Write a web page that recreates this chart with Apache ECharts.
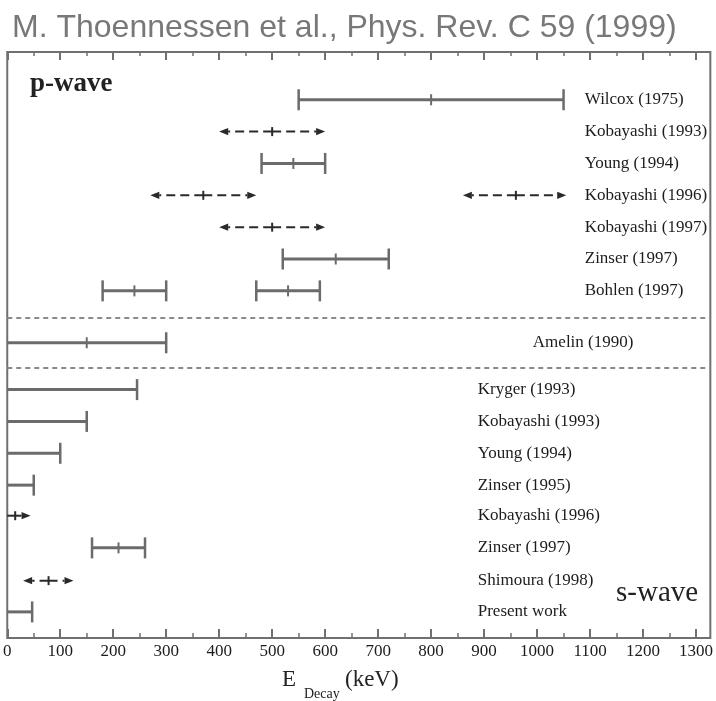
<!DOCTYPE html>
<html>
<head>
<meta charset="utf-8">
<script src="https://cdn.jsdelivr.net/npm/echarts@6/dist/echarts.min.js"></script>
<style>
  html, body { margin: 0; padding: 0; background: #fff; }
  #chart { width: 716px; height: 701px; }
</style>
</head>
<body>
<div id="chart"></div>
<script>
// Studies, one row each (row position on the vertical scale, top to bottom)
const studyNames = [
  'Wilcox (1975)', 'Kobayashi (1993)', 'Young (1994)', 'Kobayashi (1996)',
  'Kobayashi (1997)', 'Zinser (1997)', 'Bohlen (1997)',
  'Amelin (1990)',
  'Kryger (1993)', 'Kobayashi (1993)', 'Young (1994)', 'Zinser (1995)',
  'Kobayashi (1996)', 'Zinser (1997)', 'Shimoura (1998)', 'Present work'
];
const studyRows = [1.5, 2.5, 3.5, 4.5, 5.5, 6.5, 7.5, 9.13, 10.6, 11.6, 12.6, 13.6, 14.56, 15.57, 16.6, 17.58];
const studyGroup = ['p', 'p', 'p', 'p', 'p', 'p', 'p', 'a', 's', 's', 's', 's', 's', 's', 's', 's'];

// Decay-energy intervals in keV (a study may list several)
const measStudy = [0, 1, 2, 3, 3, 4, 5, 6, 6, 7, 8, 9, 10, 11, 12, 13, 14, 15];
const measLow   = [550, 400, 480, 270, 860, 400, 520, 180, 470, 0, 0, 0, 0, 0, 0, 160, 30, 0];
const measMid   = [800, 500, 540, 370, 960, 500, 620, 240, 530, 150, null, null, null, null, 15, 210, 78, null];
const measHigh  = [1050, 600, 600, 470, 1055, 600, 720, 300, 590, 300, 245, 150, 100, 50, 44, 260, 125, 47];
const measKind  = ['bar', 'arrow', 'bar', 'arrow', 'arrow', 'arrow', 'bar', 'bar', 'bar', 'bar',
                   'bar', 'bar', 'bar', 'bar', 'arrow', 'bar', 'arrow', 'bar'];

// Region separators on the vertical scale
const separatorRows = [8.34, 9.915];

// X axis ticks (keV)
const majorTicks = [0, 100, 200, 300, 400, 500, 600, 700, 800, 900, 1000, 1100, 1200, 1300];
const minorTicks = [50, 150, 250, 350, 450, 550, 650, 750, 850, 950, 1050, 1150, 1250];

// Where the study names start, per group (keV)
const labelAnchor = { p: 1090, a: 992, s: 888 };

const SERIF = '"Liberation Serif", "Times New Roman", serif';
const BAR_COLOR = '#6b6b6b';
const ARROW_COLOR = '#2a2a2a';
const FRAME_COLOR = '#707070';

const intervalData = measStudy.map((s, i) => [
  measLow[i], measMid[i] == null ? '-' : measMid[i], measHigh[i], studyRows[s]
]);
const labelData = studyNames.map((n, i) => [labelAnchor[studyGroup[i]], studyRows[i]]);

function renderInterval(params, api) {
  const i = params.dataIndex;
  const low = api.value(0), mid = api.value(1), high = api.value(2), row = api.value(3);
  const pL = api.coord([low, row]);
  const pH = api.coord([high, row]);
  const y = pL[1];
  const children = [];
  const vline = (x, h, w, color) => ({
    type: 'line',
    shape: { x1: x, y1: y - h / 2, x2: x, y2: y + h / 2 },
    style: { stroke: color, lineWidth: w }
  });
  if (measKind[i] === 'bar') {
    children.push({
      type: 'line', shape: { x1: pL[0], y1: y, x2: pH[0], y2: y },
      style: { stroke: BAR_COLOR, lineWidth: 3 }
    });
    if (low > 0) children.push(vline(pL[0], 21, 2.5, BAR_COLOR));
    children.push(vline(pH[0], 21, 2.5, BAR_COLOR));
    if (!isNaN(mid)) children.push(vline(api.coord([mid, row])[0], 11, 2, BAR_COLOR));
  } else {
    const cx = api.coord([mid, row])[0];
    const head = 9, half = 3.6;
    const dash = { stroke: ARROW_COLOR, lineWidth: 2, lineDash: [9, 5] };
    // dashed halves running outward from the central value
    children.push({ type: 'line', shape: { x1: cx, y1: y, x2: pL[0] + (low > 0 ? head : 0), y2: y }, style: dash });
    children.push({ type: 'line', shape: { x1: cx, y1: y, x2: pH[0] - head, y2: y }, style: dash });
    children.push(vline(cx, 9, 2, ARROW_COLOR));
    if (low > 0) {
      children.push({
        type: 'polygon',
        shape: { points: [[pL[0], y], [pL[0] + head, y - half], [pL[0] + head, y + half]] },
        style: { fill: ARROW_COLOR }
      });
    }
    children.push({
      type: 'polygon',
      shape: { points: [[pH[0], y], [pH[0] - head, y - half], [pH[0] - head, y + half]] },
      style: { fill: ARROW_COLOR }
    });
  }
  return { type: 'group', children };
}

function renderLabel(params, api) {
  const p = api.coord([api.value(0), api.value(1)]);
  return {
    type: 'text',
    x: p[0], y: p[1],
    style: {
      text: studyNames[params.dataIndex],
      font: '17px ' + SERIF,
      fill: '#1c1c1c',
      textAlign: 'left', textVerticalAlign: 'middle'
    }
  };
}

const xBase = {
  type: 'value', min: 0, max: 1327, gridIndex: 0,
  splitLine: { show: false },
  axisLine: { show: false, onZero: false }
};

const option = {
  animation: false,
  backgroundColor: '#ffffff',
  title: {
    text: 'M. Thoennessen et al., Phys. Rev. C 59 (1999)',
    left: 12, top: 12, padding: 0,
    textStyle: { fontFamily: '"Liberation Sans", Arial, sans-serif', fontSize: 32, fontWeight: 'normal', color: '#787878' }
  },
  grid: {
    left: 6, right: 5, top: 52, bottom: 63,
    show: true, borderColor: FRAME_COLOR, borderWidth: 2, backgroundColor: 'transparent'
  },
  xAxis: [
    Object.assign({}, xBase, {
      position: 'bottom',
      axisTick: { inside: true, length: 9, customValues: majorTicks, lineStyle: { color: FRAME_COLOR, width: 2 } },
      axisLabel: {
        customValues: majorTicks, fontFamily: SERIF, fontSize: 17, color: '#1c1c1c', margin: 5,
        formatter: v => String(v)
      }
    }),
    Object.assign({}, xBase, {
      position: 'bottom',
      axisTick: { inside: true, length: 5, customValues: minorTicks, lineStyle: { color: FRAME_COLOR, width: 1.5 } },
      axisLabel: { show: false }
    }),
    Object.assign({}, xBase, {
      position: 'top',
      axisTick: { inside: true, length: 8, customValues: majorTicks, lineStyle: { color: FRAME_COLOR, width: 2 } },
      axisLabel: { show: false }
    }),
    Object.assign({}, xBase, {
      position: 'top',
      axisTick: { inside: true, length: 4, customValues: minorTicks, lineStyle: { color: FRAME_COLOR, width: 1.5 } },
      axisLabel: { show: false }
    })
  ],
  yAxis: {
    type: 'value', inverse: true, min: 0, max: 18.4, show: false
  },
  graphic: [
    { type: 'text', x: 30, y: 84, style: { text: 'p-wave', font: 'bold 27px ' + SERIF, fill: '#222', textAlign: 'left', textVerticalAlign: 'middle' } },
    { type: 'text', x: 616, y: 593, style: { text: 's-wave', font: '29px ' + SERIF, fill: '#222', textAlign: 'left', textVerticalAlign: 'middle' } },
    { type: 'text', x: 282, y: 680, style: { text: 'E', font: '23px ' + SERIF, fill: '#222', textAlign: 'left', textVerticalAlign: 'middle' } },
    { type: 'text', x: 304, y: 694, style: { text: 'Decay', font: '14px ' + SERIF, fill: '#222', textAlign: 'left', textVerticalAlign: 'middle' } },
    { type: 'text', x: 345, y: 680, style: { text: '(keV)', font: '23px ' + SERIF, fill: '#222', textAlign: 'left', textVerticalAlign: 'middle' } }
  ],
  series: [
    {
      type: 'custom',
      name: 'intervals',
      xAxisIndex: 0,
      clip: true,
      renderItem: renderInterval,
      data: intervalData,
      encode: { x: [0, 1, 2], y: 3 },
      markLine: {
        silent: true,
        symbol: 'none',
        label: { show: false },
        lineStyle: { color: '#8a8a8a', width: 2, type: [5, 4] },
        data: separatorRows.map(v => ({ yAxis: v }))
      }
    },
    {
      type: 'custom',
      name: 'studies',
      xAxisIndex: 0,
      clip: false,
      renderItem: renderLabel,
      data: labelData,
      encode: { x: 0, y: 1 }
    }
  ]
};

const chart = echarts.init(document.getElementById('chart'), null, { renderer: 'canvas' });
chart.setOption(option);
</script>
</body>
</html>
